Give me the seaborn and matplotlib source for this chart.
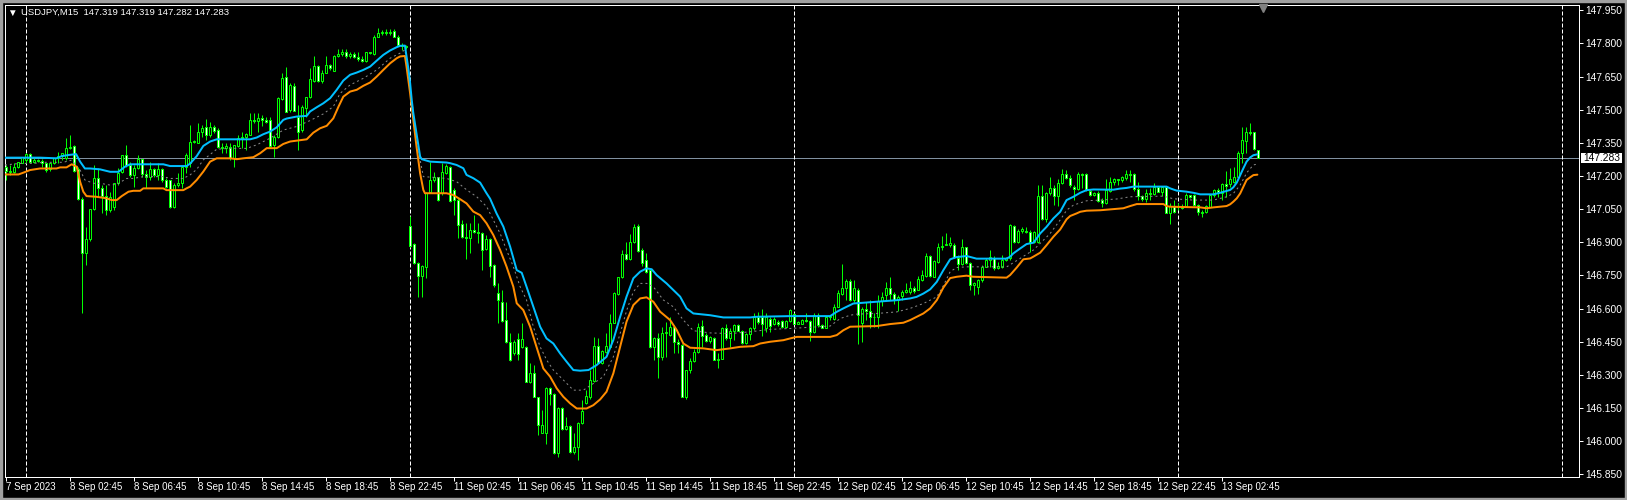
import numpy as np
import pandas as pd
import matplotlib
matplotlib.use("Agg")
import matplotlib.pyplot as plt
import matplotlib.transforms as mtransforms
from matplotlib.patches import Rectangle
import seaborn as sns

# ---------------- data (M15 candles: open, high, low, close) ----------------
symbol = "USDJPY"
timeframe = "M15"
first_bar = -5          # bar index of 7 Sep 22:45 (bar 0 = 8 Sep 00:00)

sep07 = [
    (147.239, 147.250, 147.182, 147.224), (147.224, 147.250, 147.204, 147.219),
    (147.220, 147.257, 147.212, 147.242), (147.242, 147.265, 147.234, 147.262),
    (147.260, 147.287, 147.257, 147.284),
]
sep08 = [
    (147.272, 147.302, 147.260, 147.299), (147.299, 147.305, 147.257, 147.265),
    (147.265, 147.280, 147.257, 147.272), (147.272, 147.276, 147.262, 147.267),
    (147.267, 147.275, 147.242, 147.257), (147.257, 147.260, 147.219, 147.227),
    (147.230, 147.260, 147.224, 147.257), (147.257, 147.280, 147.255, 147.280),
    (147.280, 147.310, 147.257, 147.290), (147.290, 147.305, 147.272, 147.302),
    (147.283, 147.370, 147.272, 147.325), (147.325, 147.385, 147.320, 147.333),
    (147.335, 147.340, 147.219, 147.224), (147.230, 147.242, 147.091, 147.094),
    (147.094, 147.106, 146.581, 146.853), (146.853, 146.970, 146.797, 146.913),
    (146.913, 147.052, 146.905, 147.049), (147.049, 147.250, 147.046, 147.189),
    (147.189, 147.234, 147.106, 147.144), (147.144, 147.159, 147.031, 147.109),
    (147.109, 147.159, 147.023, 147.046), (147.046, 147.129, 147.038, 147.106),
    (147.060, 147.170, 147.046, 147.167), (147.167, 147.234, 147.159, 147.215),
    (147.219, 147.297, 147.212, 147.295), (147.295, 147.340, 147.242, 147.250),
    (147.250, 147.265, 147.197, 147.204), (147.204, 147.250, 147.151, 147.234),
    (147.234, 147.295, 147.230, 147.275), (147.275, 147.277, 147.197, 147.207),
    (147.207, 147.227, 147.144, 147.197), (147.197, 147.265, 147.182, 147.230),
    (147.230, 147.234, 147.197, 147.205), (147.205, 147.257, 147.182, 147.230),
    (147.230, 147.234, 147.174, 147.182), (147.182, 147.189, 147.144, 147.151),
    (147.182, 147.184, 147.053, 147.061), (147.061, 147.167, 147.053, 147.159),
    (147.159, 147.212, 147.151, 147.170), (147.167, 147.245, 147.144, 147.242),
    (147.242, 147.302, 147.212, 147.295), (147.258, 147.430, 147.242, 147.356),
    (147.356, 147.363, 147.348, 147.360), (147.351, 147.439, 147.348, 147.401),
    (147.401, 147.431, 147.378, 147.416), (147.420, 147.457, 147.363, 147.386),
    (147.386, 147.446, 147.378, 147.420), (147.420, 147.431, 147.393, 147.405),
    (147.408, 147.416, 147.325, 147.333), (147.333, 147.348, 147.303, 147.325),
    (147.325, 147.348, 147.303, 147.336), (147.330, 147.351, 147.272, 147.280),
    (147.280, 147.342, 147.242, 147.340), (147.336, 147.386, 147.333, 147.374),
    (147.374, 147.401, 147.325, 147.378), (147.378, 147.393, 147.318, 147.389),
    (147.386, 147.484, 147.384, 147.454), (147.454, 147.487, 147.439, 147.450),
    (147.450, 147.484, 147.401, 147.461), (147.461, 147.476, 147.427, 147.454),
    (147.454, 147.469, 147.439, 147.446), (147.454, 147.469, 147.333, 147.336),
    (147.340, 147.386, 147.288, 147.378), (147.378, 147.559, 147.371, 147.552),
    (147.547, 147.668, 147.544, 147.642), (147.647, 147.695, 147.489, 147.491),
    (147.499, 147.620, 147.491, 147.612), (147.608, 147.620, 147.494, 147.496),
    (147.469, 147.522, 147.318, 147.401), (147.408, 147.522, 147.401, 147.514),
    (147.507, 147.559, 147.469, 147.556), (147.556, 147.688, 147.552, 147.638),
    (147.632, 147.741, 147.627, 147.698), (147.698, 147.703, 147.627, 147.632),
    (147.632, 147.680, 147.620, 147.668), (147.668, 147.741, 147.665, 147.703),
    (147.703, 147.707, 147.680, 147.690), (147.677, 147.746, 147.673, 147.744),
    (147.744, 147.774, 147.737, 147.752), (147.752, 147.774, 147.744, 147.763),
    (147.763, 147.774, 147.733, 147.745), (147.745, 147.759, 147.733, 147.752),
    (147.752, 147.759, 147.733, 147.740), (147.740, 147.759, 147.722, 147.730),
    (147.730, 147.741, 147.714, 147.720), (147.722, 147.763, 147.718, 147.759),
    (147.759, 147.763, 147.752, 147.756), (147.752, 147.840, 147.748, 147.831),
    (147.831, 147.869, 147.829, 147.846), (147.846, 147.861, 147.840, 147.851),
    (147.851, 147.864, 147.839, 147.849), (147.849, 147.864, 147.839, 147.851),
    (147.854, 147.864, 147.828, 147.831), (147.831, 147.839, 147.786, 147.793),
    (147.793, 147.801, 147.771, 147.786), (147.786, 147.793, 147.775, 147.782),
]
sep11 = [
    (146.974, 147.019, 146.880, 146.883), (146.892, 146.895, 146.802, 146.805),
    (146.808, 146.812, 146.654, 146.747), (146.747, 146.797, 146.654, 146.793),
    (146.790, 147.129, 146.737, 147.121), (147.129, 147.265, 147.121, 147.182),
    (147.182, 147.220, 147.175, 147.194), (147.194, 147.196, 147.088, 147.091),
    (147.121, 147.257, 147.114, 147.217), (147.212, 147.254, 147.209, 147.245),
    (147.242, 147.244, 147.084, 147.088), (147.137, 147.144, 147.023, 147.091),
    (147.091, 147.099, 146.918, 146.978), (146.983, 147.001, 146.918, 146.922),
    (146.922, 146.986, 146.823, 146.918), (146.921, 146.986, 146.850, 146.955),
    (146.955, 147.023, 146.940, 146.948), (146.948, 146.986, 146.895, 146.940),
    (146.940, 146.948, 146.774, 146.865), (146.868, 146.933, 146.863, 146.916),
    (146.913, 146.918, 146.744, 146.792), (146.797, 146.804, 146.699, 146.706),
    (146.669, 146.714, 146.533, 146.639), (146.631, 146.684, 146.540, 146.545),
    (146.548, 146.631, 146.446, 146.450), (146.450, 146.488, 146.365, 146.367),
    (146.397, 146.458, 146.390, 146.450), (146.461, 146.491, 146.367, 146.394),
    (146.427, 146.533, 146.420, 146.461), (146.427, 146.429, 146.267, 146.269),
    (146.269, 146.352, 146.265, 146.307), (146.307, 146.344, 146.199, 146.201),
    (146.198, 146.201, 146.028, 146.073), (146.038, 146.141, 146.035, 146.073),
    (146.038, 146.246, 145.987, 146.239), (146.239, 146.243, 146.163, 146.213),
    (146.213, 146.216, 145.944, 145.947), (145.947, 146.156, 145.929, 146.148),
    (146.148, 146.156, 146.050, 146.053), (146.053, 146.110, 146.050, 146.068),
    (146.068, 146.072, 145.947, 145.952), (145.952, 146.035, 145.944, 145.974),
    (145.974, 146.087, 145.914, 146.083), (146.083, 146.186, 146.080, 146.138),
    (146.174, 146.231, 146.168, 146.204), (146.201, 146.322, 146.193, 146.276),
    (146.273, 146.473, 146.269, 146.430), (146.430, 146.465, 146.352, 146.355),
    (146.355, 146.412, 146.349, 146.409), (146.405, 146.488, 146.397, 146.430),
    (146.427, 146.575, 146.420, 146.536), (146.536, 146.676, 146.533, 146.672),
    (146.666, 146.744, 146.661, 146.741), (146.741, 146.865, 146.737, 146.847),
    (146.847, 146.903, 146.820, 146.826), (146.824, 146.937, 146.820, 146.903),
    (146.903, 146.983, 146.895, 146.967), (146.974, 146.983, 146.857, 146.862),
    (146.865, 146.872, 146.792, 146.808), (146.820, 146.850, 146.759, 146.767),
    (146.774, 146.776, 146.420, 146.427), (146.427, 146.471, 146.367, 146.469),
    (146.469, 146.488, 146.288, 146.382), (146.382, 146.518, 146.367, 146.491),
    (146.491, 146.540, 146.382, 146.495), (146.480, 146.563, 146.478, 146.515),
    (146.518, 146.525, 146.397, 146.450), (146.450, 146.461, 146.397, 146.439),
    (146.435, 146.439, 146.198, 146.201), (146.201, 146.324, 146.193, 146.322),
    (146.322, 146.375, 146.307, 146.364), (146.364, 146.415, 146.360, 146.405),
    (146.405, 146.536, 146.397, 146.518), (146.521, 146.548, 146.427, 146.475),
    (146.480, 146.490, 146.450, 146.455), (146.455, 146.474, 146.443, 146.472),
    (146.469, 146.472, 146.367, 146.369), (146.367, 146.397, 146.330, 146.374),
    (146.374, 146.517, 146.370, 146.510), (146.510, 146.529, 146.457, 146.469),
    (146.469, 146.510, 146.427, 146.499), (146.499, 146.529, 146.457, 146.525),
    (146.525, 146.532, 146.497, 146.499), (146.499, 146.502, 146.442, 146.445),
    (146.445, 146.490, 146.442, 146.487), (146.487, 146.517, 146.460, 146.510),
    (146.510, 146.578, 146.505, 146.563), (146.563, 146.585, 146.532, 146.540),
    (146.563, 146.600, 146.475, 146.529), (146.514, 146.578, 146.495, 146.563),
    (146.555, 146.563, 146.495, 146.520), (146.532, 146.563, 146.525, 146.555),
    (146.540, 146.547, 146.520, 146.530), (146.544, 146.547, 146.514, 146.517),
    (146.517, 146.547, 146.513, 146.544), (146.544, 146.596, 146.540, 146.593),
]
sep12 = [
    (146.575, 146.581, 146.529, 146.532), (146.532, 146.544, 146.529, 146.538),
    (146.532, 146.555, 146.529, 146.550), (146.550, 146.578, 146.540, 146.545),
    (146.544, 146.547, 146.454, 146.495), (146.495, 146.578, 146.490, 146.570),
    (146.570, 146.578, 146.517, 146.525), (146.525, 146.529, 146.510, 146.514),
    (146.514, 146.566, 146.510, 146.560), (146.560, 146.570, 146.548, 146.566),
    (146.551, 146.623, 146.548, 146.605), (146.608, 146.683, 146.605, 146.671),
    (146.668, 146.801, 146.661, 146.695), (146.695, 146.732, 146.638, 146.726),
    (146.726, 146.732, 146.635, 146.638), (146.638, 146.729, 146.631, 146.695),
    (146.686, 146.691, 146.439, 146.570), (146.536, 146.605, 146.450, 146.600),
    (146.600, 146.631, 146.548, 146.590), (146.590, 146.638, 146.514, 146.560),
    (146.560, 146.578, 146.517, 146.563), (146.563, 146.661, 146.514, 146.635),
    (146.635, 146.676, 146.611, 146.653), (146.661, 146.721, 146.638, 146.691),
    (146.691, 146.741, 146.638, 146.665), (146.668, 146.676, 146.623, 146.641),
    (146.641, 146.661, 146.590, 146.653), (146.656, 146.683, 146.641, 146.676),
    (146.676, 146.714, 146.671, 146.686), (146.676, 146.726, 146.665, 146.695),
    (146.695, 146.702, 146.671, 146.680), (146.686, 146.747, 146.683, 146.732),
    (146.729, 146.774, 146.726, 146.751), (146.747, 146.853, 146.744, 146.837),
    (146.837, 146.842, 146.744, 146.746), (146.744, 146.822, 146.741, 146.816),
    (146.812, 146.898, 146.807, 146.877), (146.877, 146.930, 146.867, 146.883),
    (146.889, 146.940, 146.887, 146.893), (146.887, 146.922, 146.877, 146.898),
    (146.887, 146.895, 146.827, 146.835), (146.827, 146.842, 146.774, 146.801),
    (146.801, 146.917, 146.797, 146.877), (146.877, 146.880, 146.804, 146.807),
    (146.807, 146.812, 146.684, 146.706), (146.706, 146.721, 146.661, 146.714),
    (146.699, 146.736, 146.668, 146.729), (146.729, 146.797, 146.721, 146.789),
    (146.789, 146.827, 146.786, 146.819), (146.819, 146.865, 146.786, 146.834),
    (146.827, 146.838, 146.774, 146.782), (146.782, 146.812, 146.777, 146.792),
    (146.789, 146.842, 146.782, 146.819), (146.819, 146.834, 146.816, 146.827),
    (146.827, 146.982, 146.822, 146.978), (146.973, 146.978, 146.898, 146.902),
    (146.902, 146.958, 146.895, 146.952), (146.952, 146.970, 146.940, 146.958),
    (146.952, 146.970, 146.940, 146.948), (146.948, 146.955, 146.857, 146.902),
    (146.902, 146.952, 146.898, 146.948), (146.902, 147.159, 146.895, 147.109),
    (147.109, 147.159, 147.003, 147.004), (147.004, 147.129, 146.993, 147.121),
    (147.121, 147.194, 147.114, 147.144), (147.144, 147.159, 147.068, 147.109),
    (147.109, 147.185, 147.064, 147.167), (147.167, 147.230, 147.163, 147.209),
    (147.209, 147.227, 147.185, 147.189), (147.189, 147.204, 147.148, 147.159),
    (147.151, 147.159, 147.091, 147.139), (147.139, 147.219, 147.136, 147.209),
    (147.209, 147.215, 147.144, 147.204), (147.209, 147.215, 147.134, 147.136),
    (147.134, 147.139, 147.109, 147.114), (147.114, 147.129, 147.109, 147.124),
    (147.124, 147.133, 147.083, 147.088), (147.091, 147.099, 147.058, 147.076),
    (147.076, 147.185, 147.073, 147.136), (147.134, 147.197, 147.129, 147.174),
    (147.174, 147.189, 147.159, 147.185), (147.185, 147.188, 147.159, 147.182),
    (147.182, 147.200, 147.174, 147.194), (147.189, 147.227, 147.182, 147.209),
    (147.209, 147.227, 147.174, 147.204), (147.209, 147.212, 147.133, 147.139),
    (147.139, 147.174, 147.091, 147.109), (147.109, 147.114, 147.088, 147.094),
    (147.094, 147.139, 147.084, 147.124), (147.124, 147.144, 147.091, 147.118),
    (147.118, 147.167, 147.114, 147.148), (147.148, 147.154, 147.127, 147.129),
    (147.129, 147.151, 147.109, 147.148), (147.148, 147.151, 147.031, 147.034),
    (147.034, 147.076, 146.983, 147.064), (147.064, 147.091, 147.031, 147.038),
]
sep13 = [
    (147.058, 147.076, 147.046, 147.064), (147.064, 147.073, 147.049, 147.053),
    (147.064, 147.121, 147.061, 147.114), (147.114, 147.116, 147.099, 147.106),
    (147.114, 147.118, 147.064, 147.068), (147.068, 147.073, 147.023, 147.038),
    (147.038, 147.046, 147.016, 147.034), (147.038, 147.068, 147.034, 147.064),
    (147.061, 147.118, 147.058, 147.114), (147.114, 147.139, 147.106, 147.136),
    (147.136, 147.144, 147.106, 147.129), (147.124, 147.167, 147.091, 147.163),
    (147.163, 147.224, 147.106, 147.154), (147.164, 147.235, 147.152, 147.185),
    (147.174, 147.242, 147.167, 147.194), (147.194, 147.315, 147.189, 147.306),
    (147.303, 147.423, 147.260, 147.363), (147.360, 147.423, 147.303, 147.400),
    (147.400, 147.441, 147.385, 147.393), (147.397, 147.400, 147.318, 147.321),
    (147.319, 147.319, 147.282, 147.283),
]

# indicator lines: (bar, price)
cyan_line = [
    (-5.2, 147.283), (3.6, 147.283), (7.7, 147.280), (9.0, 147.290), (10.7, 147.295),
    (12.6, 147.299), (13.6, 147.265), (14.8, 147.234), (16.1, 147.234), (18.6, 147.230),
    (21.1, 147.219), (23.2, 147.219), (24.8, 147.242), (26.1, 147.253), (34.4, 147.253),
    (36.1, 147.245), (40.2, 147.245), (41.1, 147.256), (42.75, 147.290), (44.4, 147.336),
    (46.1, 147.356), (47.75, 147.366), (56.1, 147.366), (57.75, 147.374), (59.4, 147.389),
    (61.1, 147.401), (62.75, 147.420), (64.4, 147.454), (65.25, 147.460), (67.75, 147.469),
    (70.25, 147.472), (71.1, 147.492), (72.75, 147.511), (74.4, 147.529), (76.1, 147.552),
    (77.75, 147.590), (79.4, 147.632), (81.1, 147.658), (82.75, 147.668), (84.4, 147.680),
    (86.1, 147.695), (87.75, 147.722), (89.4, 147.748), (91.1, 147.768), (92.75, 147.783),
    (93.6, 147.789), (94.8, 147.790), (95.2, 147.740), (95.7, 147.680), (96.1, 147.620),
    (96.5, 147.544), (96.9, 147.484), (97.7, 147.393), (98.2, 147.333), (98.6, 147.288),
    (99.0, 147.276), (101.1, 147.265), (105.2, 147.261), (106.1, 147.258), (107.7, 147.250),
    (109.4, 147.235), (110.2, 147.205), (111.9, 147.190), (113.6, 147.170), (115.2, 147.122),
    (116.1, 147.097), (117.7, 147.031), (119.4, 146.971), (121.1, 146.880), (122.75, 146.774),
    (124.0, 146.762), (125.2, 146.699), (126.9, 146.608), (128.6, 146.518), (130.2, 146.465),
    (131.9, 146.442), (133.6, 146.397), (135.2, 146.360), (136.9, 146.322), (138.6, 146.319),
    (140.7, 146.322), (142.7, 146.344), (145.2, 146.382), (146.9, 146.458), (148.6, 146.563),
    (150.2, 146.654), (151.9, 146.737), (153.6, 146.767), (155.2, 146.782), (156.5, 146.778),
    (157.7, 146.752), (160.2, 146.714), (161.9, 146.684), (163.6, 146.654), (165.2, 146.601),
    (166.9, 146.578), (171.1, 146.570), (174.4, 146.560), (181.1, 146.560), (182.7, 146.563),
    (191.1, 146.566), (201.1, 146.566), (202.7, 146.585), (204.4, 146.601), (206.9, 146.623),
    (212.7, 146.631), (217.7, 146.638), (221.1, 146.646), (222.7, 146.653), (224.4, 146.668),
    (226.1, 146.687), (227.75, 146.721), (229.4, 146.774), (231.1, 146.823), (232.7, 146.833),
    (235.2, 146.838), (237.7, 146.826), (245.2, 146.826), (246.1, 146.835), (246.9, 146.850),
    (248.6, 146.872), (250.2, 146.892), (251.9, 146.898), (252.75, 146.918), (253.6, 146.940),
    (255.2, 146.970), (256.9, 147.008), (258.6, 147.038), (260.2, 147.091), (261.9, 147.106),
    (263.6, 147.124), (265.2, 147.136), (266.9, 147.139), (271.9, 147.138), (273.6, 147.143),
    (275.2, 147.146), (276.9, 147.152), (285.2, 147.152), (286.1, 147.144), (287.7, 147.134),
    (290.2, 147.129), (291.9, 147.124), (293.6, 147.117), (296.9, 147.117), (298.6, 147.124),
    (301.1, 147.137), (301.9, 147.149), (302.75, 147.170), (303.6, 147.204), (304.4, 147.235),
    (305.2, 147.265), (306.1, 147.284), (306.9, 147.294), (307.9, 147.298),
]
orange_line = [
    (-5.2, 147.207), (-1.8, 147.207), (-0.6, 147.215), (1.1, 147.227), (3.6, 147.234),
    (7.7, 147.234), (8.6, 147.239), (10.2, 147.239), (11.5, 147.253), (12.75, 147.242),
    (13.6, 147.174), (14.4, 147.129), (15.2, 147.109), (17.7, 147.106), (20.2, 147.099),
    (21.5, 147.091), (22.75, 147.091), (24.0, 147.109), (25.7, 147.129), (26.9, 147.133),
    (28.6, 147.133), (29.4, 147.144), (34.4, 147.144), (35.2, 147.136), (39.4, 147.136),
    (40.2, 147.144), (41.1, 147.152), (42.75, 147.182), (44.4, 147.220), (46.1, 147.265),
    (47.75, 147.280), (51.1, 147.280), (52.75, 147.276), (54.4, 147.280), (56.9, 147.285),
    (58.6, 147.303), (60.25, 147.326), (62.75, 147.326), (64.4, 147.345), (66.1, 147.356),
    (70.25, 147.366), (71.9, 147.396), (73.6, 147.416), (75.25, 147.427), (76.9, 147.461),
    (78.2, 147.514), (79.4, 147.559), (81.1, 147.582), (82.75, 147.590), (84.4, 147.608),
    (86.1, 147.623), (87.75, 147.650), (89.4, 147.680), (91.1, 147.710), (92.75, 147.733),
    (93.6, 147.741), (94.8, 147.743), (95.2, 147.695), (96.1, 147.574), (96.9, 147.454),
    (97.7, 147.333), (98.6, 147.212), (99.4, 147.137), (99.8, 147.122), (105.2, 147.122),
    (106.9, 147.114), (108.6, 147.095), (110.2, 147.076), (111.9, 147.039), (113.6, 147.023),
    (115.2, 146.986), (116.9, 146.933), (118.6, 146.865), (120.2, 146.790), (121.9, 146.699),
    (122.75, 146.624), (124.4, 146.593), (126.1, 146.518), (127.7, 146.427), (129.4, 146.329),
    (131.1, 146.292), (132.75, 146.239), (134.4, 146.201), (136.1, 146.171), (137.75, 146.148),
    (140.2, 146.148), (141.9, 146.163), (143.6, 146.189), (145.2, 146.224), (146.9, 146.307),
    (148.6, 146.427), (150.2, 146.541), (151.9, 146.616), (153.6, 146.646), (155.2, 146.651),
    (156.9, 146.631), (158.6, 146.586), (161.1, 146.548), (162.75, 146.503), (164.4, 146.442),
    (166.1, 146.423), (169.4, 146.420), (172.7, 146.412), (176.1, 146.420), (178.6, 146.427),
    (181.9, 146.430), (183.6, 146.442), (186.1, 146.450), (189.4, 146.457), (191.1, 146.465),
    (192.75, 146.472), (201.1, 146.472), (202.75, 146.480), (204.4, 146.502), (206.1, 146.518),
    (212.75, 146.521), (216.1, 146.530), (219.4, 146.536), (221.1, 146.548), (222.75, 146.563),
    (224.4, 146.578), (226.1, 146.601), (227.75, 146.638), (229.4, 146.695), (231.1, 146.738),
    (232.75, 146.744), (235.2, 146.749), (236.9, 146.744), (245.2, 146.740), (246.1, 146.752),
    (247.75, 146.786), (249.4, 146.823), (251.1, 146.827), (251.9, 146.835), (253.6, 146.853),
    (255.2, 146.887), (256.9, 146.925), (258.6, 146.958), (260.2, 147.004), (261.1, 147.019),
    (262.75, 147.031), (263.6, 147.038), (265.2, 147.043), (268.6, 147.045), (271.9, 147.050),
    (274.4, 147.054), (276.1, 147.064), (277.75, 147.073), (284.4, 147.073), (285.2, 147.064),
    (286.1, 147.061), (293.6, 147.058), (295.2, 147.054), (296.9, 147.058), (298.6, 147.061),
    (300.2, 147.064), (301.1, 147.072), (301.9, 147.084), (302.75, 147.099), (303.6, 147.121),
    (304.4, 147.152), (305.2, 147.182), (306.1, 147.194), (306.9, 147.204), (307.9, 147.206),
]
gray_line = [
    (-5.2, 147.250), (-1.4, 147.257), (1.9, 147.257), (4.4, 147.262), (9.4, 147.262),
    (11.5, 147.272), (13.6, 147.227), (14.8, 147.182), (16.9, 147.167), (18.6, 147.167),
    (21.1, 147.159), (22.75, 147.162), (25.25, 147.189), (26.9, 147.189), (29.4, 147.197),
    (34.4, 147.197), (36.1, 147.189), (39.4, 147.189), (41.1, 147.205), (42.75, 147.230),
    (44.4, 147.273), (47.75, 147.321), (51.1, 147.325), (55.25, 147.325), (57.75, 147.341),
    (61.1, 147.371), (64.4, 147.408), (67.75, 147.424), (71.1, 147.451), (74.4, 147.481),
    (76.9, 147.514), (78.6, 147.574), (81.1, 147.612), (84.4, 147.642), (87.75, 147.680),
    (91.1, 147.733), (93.6, 147.756), (94.8, 147.771), (96.1, 147.605), (97.3, 147.424),
    (98.6, 147.273), (99.4, 147.197), (101.9, 147.194), (105.2, 147.189), (107.75, 147.174),
    (110.25, 147.137), (112.75, 147.106), (115.25, 147.061), (116.9, 147.001), (118.6, 146.940),
    (120.2, 146.865), (121.9, 146.790), (123.6, 146.699), (125.2, 146.639), (126.9, 146.518),
    (128.6, 146.427), (130.25, 146.367), (131.9, 146.322), (134.4, 146.277), (136.9, 146.231),
    (139.4, 146.231), (141.9, 146.261), (144.4, 146.292), (146.9, 146.382), (148.6, 146.488),
    (150.25, 146.593), (151.9, 146.676), (153.6, 146.714), (155.25, 146.714), (156.9, 146.699),
    (159.4, 146.639), (161.9, 146.608), (164.4, 146.548), (166.9, 146.500), (171.1, 146.490),
    (176.1, 146.487), (181.1, 146.495), (186.1, 146.506), (191.1, 146.510), (201.1, 146.521),
    (203.6, 146.555), (206.1, 146.570), (207.75, 146.575), (212.75, 146.578), (217.75, 146.585),
    (221.1, 146.601), (224.4, 146.623), (227.75, 146.653), (229.4, 146.704), (231.1, 146.767),
    (232.75, 146.786), (235.25, 146.789), (245.25, 146.789), (248.6, 146.827), (251.9, 146.865),
    (253.6, 146.895), (256.1, 146.940), (258.6, 147.001), (260.25, 147.046), (261.9, 147.068),
    (265.25, 147.088), (268.6, 147.091), (272.75, 147.096), (276.1, 147.106), (284.4, 147.109),
    (286.9, 147.097), (291.9, 147.091), (296.9, 147.091), (300.25, 147.106), (301.9, 147.121),
    (303.6, 147.159), (305.25, 147.215), (306.9, 147.250), (307.9, 147.254),
]

day_separators = [0, 96, 192, 288, 384]
x_tick_bars = [-5, 11, 27, 43, 59, 75, 91, 107, 123, 139, 155, 171, 187,
               203, 219, 235, 251, 267, 283, 299]
x_tick_labels = ["7 Sep 2023", "8 Sep 02:45", "8 Sep 06:45", "8 Sep 10:45",
                 "8 Sep 14:45", "8 Sep 18:45", "8 Sep 22:45", "11 Sep 02:45",
                 "11 Sep 06:45", "11 Sep 10:45", "11 Sep 14:45", "11 Sep 18:45",
                 "11 Sep 22:45", "12 Sep 02:45", "12 Sep 06:45", "12 Sep 10:45",
                 "12 Sep 14:45", "12 Sep 18:45", "12 Sep 22:45", "13 Sep 02:45"]
y_ticks = [145.850, 146.000, 146.150, 146.300, 146.450, 146.600, 146.750,
           146.900, 147.050, 147.200, 147.350, 147.500, 147.650, 147.800, 147.950]
bid_price = 147.283

# ---------------- build ----------------
df = pd.DataFrame(sep07 + sep08 + sep11 + sep12 + sep13,
                  columns=["open", "high", "low", "close"])
df["bar"] = np.arange(first_bar, first_bar + len(df))
df["bull"] = df["close"] >= df["open"]

cyan_df = pd.DataFrame(cyan_line, columns=["bar", "price"])
orange_df = pd.DataFrame(orange_line, columns=["bar", "price"])
gray_df = pd.DataFrame(gray_line, columns=["bar", "price"])

sns.set_theme(style="dark")
plt.rcParams["font.family"] = ["Liberation Sans", "DejaVu Sans"]
plt.rcParams["lines.scale_dashes"] = False
plt.rcParams["axes.grid"] = False

W, H = 1627, 500
PX = 72.0 / 100.0   # points per pixel
fig = plt.figure(figsize=(W / 100, H / 100), dpi=100, facecolor="black")
ax = fig.add_axes([4.5 / W, 1 - 477 / H, (1579 - 4.5) / W, (477 - 4.5) / H])
ax.set_facecolor("black")
ax.grid(False)

LIME = "#00ff00"

# bid line and day separators
ax.axhline(bid_price, color="#8090a0", lw=1 * PX, zorder=1)
for s in day_separators:
    ax.axvline(s, color="white", lw=1 * PX, dashes=(4 * PX, 2 * PX), zorder=1)

# candles
ax.vlines(df["bar"], df["low"], df["high"], color=LIME, lw=1 * PX, zorder=3)
body_lo = np.minimum(df["open"], df["close"])
body_h = (df["close"] - df["open"]).abs()
face = np.where(df["bull"], "black", "white")
ax.bar(df["bar"], body_h, bottom=body_lo, width=0.5, color=face,
       edgecolor=LIME, linewidth=1 * PX, zorder=4)

# indicator lines
sns.lineplot(data=gray_df, x="bar", y="price", ax=ax, color="#8a8a8a",
             linewidth=1 * PX, estimator=None, sort=False, zorder=5,
             dashes=False).lines[-1].set_dashes((2 * PX, 3 * PX))
sns.lineplot(data=orange_df, x="bar", y="price", ax=ax, color="#ff8c00",
             linewidth=2 * PX, estimator=None, sort=False, zorder=6)
sns.lineplot(data=cyan_df, x="bar", y="price", ax=ax, color="#00bfff",
             linewidth=2 * PX, estimator=None, sort=False, zorder=7)

ax.set_xlim(-5.3, 388.3)
ax.set_ylim(145.838, 147.976)
ax.set_xlabel("")
ax.set_ylabel("")

for sp in ax.spines.values():
    sp.set_color("white")
    sp.set_linewidth(1 * PX)

ax.yaxis.tick_right()
ax.set_yticks(y_ticks)
ax.set_yticklabels([f"{v:.3f}" for v in y_ticks])
ax.tick_params(axis="y", which="major", right=True, left=False, direction="out",
               length=4 * PX, width=1 * PX, color="white", labelcolor="white",
               labelsize=7.4, pad=1.5)
ax.set_xticks(x_tick_bars)
ax.set_xticklabels(x_tick_labels, ha="left")
ax.tick_params(axis="x", which="major", bottom=True, direction="out",
               length=4 * PX, width=1 * PX, color="white", labelcolor="white",
               labelsize=7, pad=0.5)

# current price tag on the price scale
blend = mtransforms.blended_transform_factory(ax.transAxes, ax.transData)
tag_h = 10 / 220.95
ax.add_patch(Rectangle((1.0013, bid_price - tag_h / 2), 41 / 1574.5, tag_h,
                       transform=blend, facecolor="white", edgecolor="none",
                       clip_on=False, zorder=10))
ax.text(1.0013 + 20.5 / 1574.5, bid_price, f"{bid_price:.3f}", transform=blend,
        ha="center", va="center", fontsize=7.4, color="black", clip_on=False,
        zorder=11)

# chart shift marker
blend_x = mtransforms.blended_transform_factory(ax.transData, ax.transAxes)
ax.plot([309.3], [0.993], marker="v", markersize=6 * PX * 1.2, color="#808080",
        transform=blend_x, clip_on=False, zorder=12)

# header
last = df.iloc[-1]
fig.text(12 / W, 1 - 12.7 / H, "\u25bc", ha="center", va="center",
         fontsize=7, color="white")
fig.text(20.7 / W, 1 - 12.7 / H,
         f"{symbol},{timeframe}  {last.open:.3f} {last.high:.3f} "
         f"{last.low:.3f} {last.close:.3f}",
         ha="left", va="center", fontsize=6.8, color="white")

# window frame
fig.patches.append(Rectangle((0, 0), 1, 1, transform=fig.transFigure,
                             facecolor="none", edgecolor="#a0a0a0",
                             linewidth=5.4 * PX, zorder=20))

fig.savefig("out.png", dpi=100, facecolor="black")
